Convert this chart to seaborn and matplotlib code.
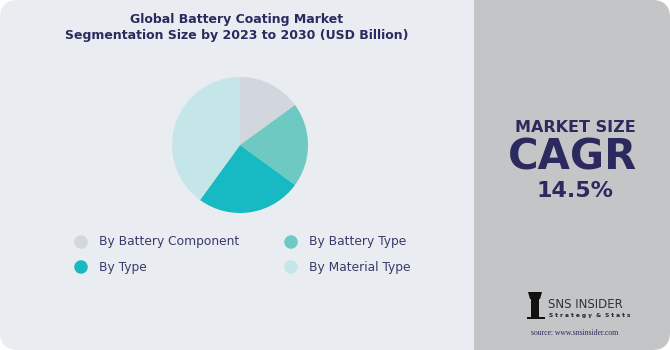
import matplotlib
matplotlib.use("Agg")
import matplotlib.pyplot as plt
import seaborn as sns
from matplotlib.patches import FancyBboxPatch, Rectangle, Polygon

# ---- data ----
categories = ["By Battery Component", "By Battery Type", "By Type", "By Material Type"]
shares = [15, 20, 25, 40]
colors = ["#D1D7DD", "#6DC9C2", "#17BAC2", "#C5E6E8"]
title_lines = ["Global Battery Coating Market", "Segmentation Size by 2023 to 2030 (USD Billion)"]
side_label = "MARKET SIZE"
side_big = "CAGR"
side_value = "14.5%"
source_text = "source: www.snsinsider.com"

sns.set_theme(style="white")
plt.rcParams['font.family'] = ['DejaVu Sans']

W, H = 670, 350
fig = plt.figure(figsize=(W / 100, H / 100), dpi=100)
fig.patch.set_facecolor("white")

navy = "#2B2A5E"

# background panels (figure pixel coords via a full-figure axes)
bg = fig.add_axes([0, 0, 1, 1])
bg.set_xlim(0, W)
bg.set_ylim(H, 0)
bg.axis("off")
bg.add_patch(FancyBboxPatch((0, 0), W, H, boxstyle="round,pad=0,rounding_size=18",
                            fc="#E9ECF1", ec="none"))
bg.add_patch(FancyBboxPatch((474, 0), W - 474, H, boxstyle="round,pad=0,rounding_size=18",
                            fc="#C4C5C7", ec="none"))
bg.add_patch(Rectangle((474, 0), 30, H, fc="#C4C5C7", ec="none"))

# title
bg.text(237, 20, title_lines[0], ha="center", va="center", fontsize=9,
        fontweight="bold", color=navy)
bg.text(237, 36, title_lines[1], ha="center", va="center", fontsize=9,
        fontweight="bold", color=navy)

# right panel text
bg.text(575, 127, side_label, ha="center", va="center", fontsize=11.5,
        fontweight="heavy", color=navy)
bg.text(572, 157, side_big, ha="center", va="center", fontsize=30,
        fontweight="heavy", color=navy)
bg.text(575, 191, side_value, ha="center", va="center", fontsize=16,
        fontweight="heavy", color=navy)

# logo
bg.text(548, 304, "SNS INSIDER", ha="left", va="center", fontsize=8.5,
        color="#333333")
bg.text(549, 316, "S t r a t e g y  &  S t a t s", ha="left", va="center", fontsize=4.2,
        color="#222222", fontweight="bold")
bg.add_patch(Rectangle((531, 299), 8, 19, fc="#111111", ec="none"))
bg.add_patch(Polygon([(528, 292), (542, 292), (540, 299), (530, 299)], closed=True,
                     fc="#111111", ec="none"))
bg.add_patch(Rectangle((527, 317), 18, 2, fc="#111111", ec="none"))
bg.text(575, 333, source_text, ha="center", va="center", fontsize=5.5,
        color=navy, family="Liberation Serif")

# pie
cx, cy, r = 240, 145, 68
pax = fig.add_axes([(cx - r) / W, (H - cy - r) / H, 2 * r / W, 2 * r / H])
pax.pie(shares, colors=colors, startangle=90, counterclock=False,
        wedgeprops=dict(linewidth=0))
pax.set_xlim(-1, 1)
pax.set_ylim(-1, 1)
pax.set_aspect("equal")
pax.axis("off")

# legend
lx = [81, 291]
ly = [242, 267]
for i, (cat, col) in enumerate(zip(categories, colors)):
    x = lx[i % 2]
    y = ly[i // 2]
    bg.scatter([x], [y], s=95, color=col, edgecolors="none", zorder=3)
    bg.text(x + 18, y, cat, ha="left", va="center", fontsize=8.8, color="#3A3A6A")

fig.savefig("out.png", dpi=100, facecolor=fig.get_facecolor())
